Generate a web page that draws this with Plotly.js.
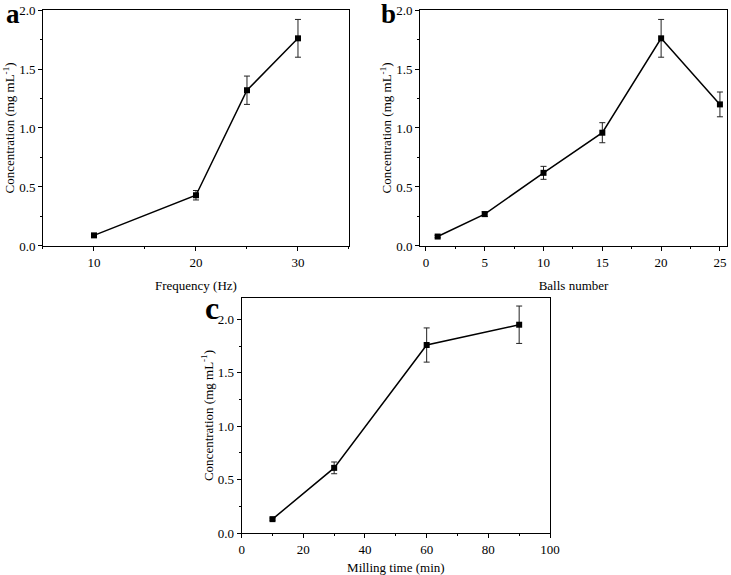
<!DOCTYPE html>
<html>
<head>
<meta charset="utf-8">
<script src="https://cdn.plot.ly/plotly-3.0.1.min.js"></script>
<style>html,body{margin:0;padding:0;background:#fff;}#chart{width:731px;height:575px;}</style>
</head>
<body>
<div id="chart"></div>
<script>
// Panel a: frequency
const freqX = [10, 20, 25, 30];
const freqY = [0.09, 0.43, 1.32, 1.76];
const freqErr = [0.01, 0.04, 0.12, 0.16];
// Panel b: balls number
const ballsX = [1, 5, 10, 15, 20, 25];
const ballsY = [0.08, 0.27, 0.62, 0.96, 1.76, 1.20];
const ballsErr = [0.01, 0.02, 0.055, 0.085, 0.16, 0.105];
// Panel c: milling time
const timeX = [10, 30, 60, 90];
const timeY = [0.13, 0.61, 1.76, 1.95];
const timeErr = [0.01, 0.055, 0.16, 0.175];

const yTitle = 'Concentration (mg mL<sup>-1</sup>)';
const FONT = 'Liberation Serif';

function trace(x, y, e, xa, ya) {
  return {
    x: x, y: y, xaxis: xa, yaxis: ya, type: 'scatter', mode: 'lines+markers',
    line: {color: '#000', width: 1.5},
    marker: {symbol: 'square', size: 6, color: '#000'},
    error_y: {type: 'data', array: e, visible: true, color: '#222', thickness: 1, width: 3},
    showlegend: false, cliponaxis: false
  };
}

function xax(domain, range, dtick, title, anchor) {
  return {
    domain: domain, range: range, dtick: dtick, tick0: 0, anchor: anchor,
    showgrid: false, zeroline: false, showline: true, mirror: true,
    linecolor: '#000', linewidth: 1, ticks: 'outside', ticklen: 4, tickwidth: 1, tickcolor: '#000',
    minor: {dtick: dtick / 2, ticks: 'outside', ticklen: 2, tickcolor: '#000'},
    tickfont: {family: FONT, size: 13, color: '#000'},
    title: {text: title, font: {family: FONT, size: 13, color: '#000'}, standoff: 12}
  };
}
function yax(domain, range, anchor) {
  return {
    domain: domain, range: range, dtick: 0.5, tick0: 0, anchor: anchor,
    showgrid: false, zeroline: false, showline: true, mirror: true,
    linecolor: '#000', linewidth: 1, ticks: 'outside', ticklen: 4, tickwidth: 1, tickcolor: '#000',
    minor: {dtick: 0.25, ticks: 'outside', ticklen: 2, tickcolor: '#000'},
    tickformat: '.1f',
    tickfont: {family: FONT, size: 13, color: '#000'},
    title: {text: yTitle, font: {family: FONT, size: 13, color: '#000'}, standoff: 1}
  };
}

const data = [
  trace(freqX, freqY, freqErr, 'x', 'y'),
  trace(ballsX, ballsY, ballsErr, 'x2', 'y2'),
  trace(timeX, timeY, timeErr, 'x3', 'y3')
];

function label(t, px, py, size) {
  return {text: '<b>' + t + '</b>', x: px / 731, y: 1 - py / 575, xref: 'paper', yref: 'paper',
    xanchor: 'center', yanchor: 'middle', showarrow: false,
    font: {family: FONT, size: size, color: '#000'}};
}

const layout = {
  width: 731, height: 575,
  margin: {l: 0, r: 0, t: 0, b: 0},
  paper_bgcolor: '#fff', plot_bgcolor: '#fff',
  xaxis: xax([0.0588, 0.4774], [5, 35], 10, 'Frequency (Hz)', 'y'),
  yaxis: yax([0.5722, 0.9826], [0, 2], 'x'),
  xaxis2: xax([0.5746, 0.9945], [-0.5, 25.6], 5, 'Balls number', 'y2'),
  yaxis2: yax([0.5722, 0.9826], [0, 2], 'x2'),
  xaxis3: xax([0.3306, 0.7524], [0, 100], 20, 'Milling time (min)', 'y3'),
  yaxis3: yax([0.0730, 0.4817], [0, 2.2], 'x3'),
  annotations: [
    label('a', 13, 14, 27),
    label('b', 388, 14, 27),
    label('c', 212, 308, 32)
  ]
};

Plotly.newPlot('chart', data, layout, {displayModeBar: false, staticPlot: true});
</script>
</body>
</html>
